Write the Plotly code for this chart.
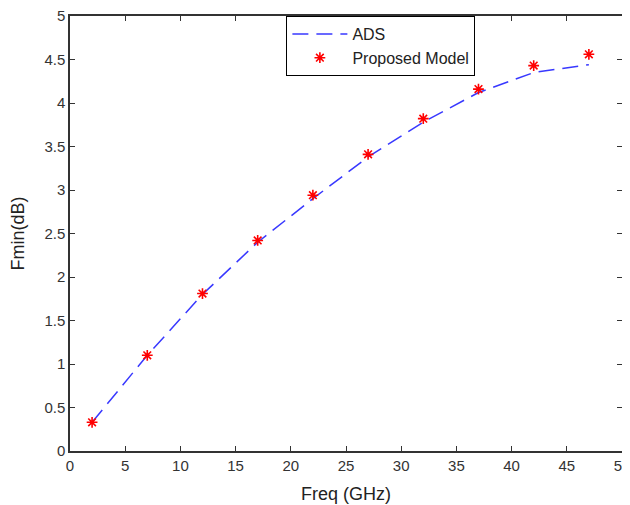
import plotly.graph_objects as go

freq = [2, 7, 12, 17, 22, 27, 32, 37, 42, 47]
ads = [0.33, 1.10, 1.80, 2.40, 2.90, 3.38, 3.78, 4.12, 4.35, 4.44]
model = [0.33, 1.10, 1.81, 2.42, 2.94, 3.41, 3.82, 4.16, 4.43, 4.56]

fig = go.Figure()
fig.add_trace(go.Scatter(x=freq, y=ads, mode="lines", name="ADS",
                         line=dict(color="#3838ff", width=1.5, dash="16px,8px")))
fig.add_trace(go.Scatter(x=freq, y=model, mode="markers", name="Proposed Model",
                         marker=dict(symbol="asterisk", size=9, color="red",
                                     line=dict(color="red", width=1.6))))

font_family = "Liberation Sans, Arial"
axis_common = dict(showline=True, linecolor="#333333", linewidth=1.5, mirror="ticks",
                   ticks="inside", ticklen=5, tickcolor="#333333", showgrid=False,
                   zeroline=False, automargin=False, ticklabeloverflow="allow",
                   tickfont=dict(family=font_family, size=15, color="#333333"))

fig.update_xaxes(range=[0, 50], dtick=5, title=dict(text="Freq (GHz)",
                 font=dict(family=font_family, size=18, color="#222222")), **axis_common)
fig.update_yaxes(range=[0, 5], dtick=0.5, title=dict(text="Fmin(dB)",
                 font=dict(family=font_family, size=18, color="#222222")), **axis_common)

fig.update_layout(
    width=622, height=497,
    margin=dict(l=62, r=8, t=8, b=54),
    paper_bgcolor="white", plot_bgcolor="white",
    legend=dict(x=0.392, y=1, xanchor="left", yanchor="top",
                bordercolor="black", borderwidth=1, bgcolor="white",
                font=dict(family=font_family, size=16, color="#222222"),
                itemwidth=55, tracegroupgap=2),
)

fig.write_html("out.html")
